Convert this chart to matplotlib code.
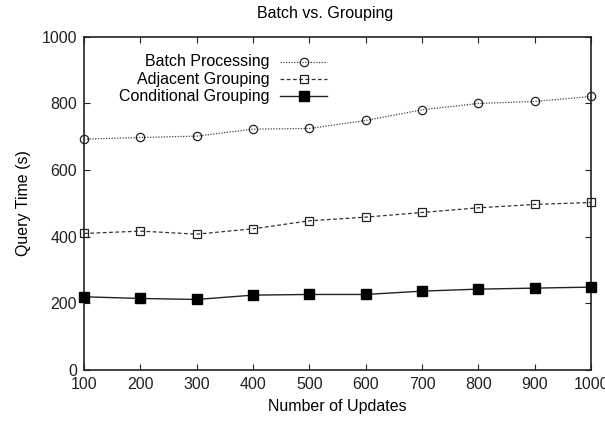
import matplotlib.pyplot as plt
from matplotlib.lines import Line2D

plt.rcParams['font.family'] = ['Liberation Sans', 'DejaVu Sans']

updates = [100, 200, 300, 400, 500, 600, 700, 800, 900, 1000]
batch = [693, 698, 702, 723, 725, 749, 781, 800, 806, 821]
adjacent = [410, 417, 408, 424, 448, 459, 473, 487, 497, 503]
conditional = [220, 215, 212, 225, 227, 227, 237, 243, 246, 249]

labels = ["Batch Processing", "Adjacent Grouping", "Conditional Grouping"]

fig = plt.figure(figsize=(6.05, 4.23), dpi=100)
ax = fig.add_axes([0.139, 0.125, 0.838, 0.788])

styles = [
    dict(ls=(0, (1, 1.2)), lw=0.9, color='#444444', marker='o', ms=6,
         mfc='none', mec='#222222', mew=0.9),
    dict(ls=(0, (3, 2)), lw=0.9, color='#333333', marker='s', ms=5.8,
         mfc='none', mec='#222222', mew=0.9),
    dict(ls='-', lw=1.0, color='#222222', marker='s', ms=6.5,
         mfc='black', mec='black'),
]

for ys, st in zip([batch, adjacent, conditional], styles):
    ax.plot(updates, ys, clip_on=False, zorder=3, **st)

ax.set_xlim(100, 1000)
ax.set_ylim(0, 1000)
ax.set_xticks(updates)
ax.set_yticks([0, 200, 400, 600, 800, 1000])
ax.tick_params(direction='in', length=4.5, width=0.8, top=True, right=True,
               labelsize=11.5, colors='#222222', pad=5)
for sp in ax.spines.values():
    sp.set_linewidth(1.2)
    sp.set_color('#222222')

ax.set_xlabel("Number of Updates", fontsize=11.5, labelpad=5)
ax.set_ylabel("Query Time (s)", fontsize=11.5, labelpad=8)
fig.text(0.537, 0.968, "Batch vs. Grouping", ha='center', va='center', fontsize=11.5)

# legend drawn gnuplot-style: text right-aligned, sample on the right
rows = [0.925, 0.873, 0.821]
for lab, st, yy in zip(labels, styles, rows):
    ax.text(0.366, yy, lab, transform=ax.transAxes, ha='right', va='center',
            fontsize=11.5)
    line_st = {k: v for k, v in st.items() if k not in ('marker', 'ms', 'mfc', 'mec', 'mew')}
    ax.add_line(Line2D([0.387, 0.479], [yy, yy], transform=ax.transAxes, **line_st))
    ax.add_line(Line2D([0.433], [yy], transform=ax.transAxes, ls='none',
                       marker=st['marker'], ms=st['ms'], mfc=st['mfc'],
                       mec=st['mec'], mew=st.get('mew', 1.0)))

fig.savefig("out.png", dpi=100)
